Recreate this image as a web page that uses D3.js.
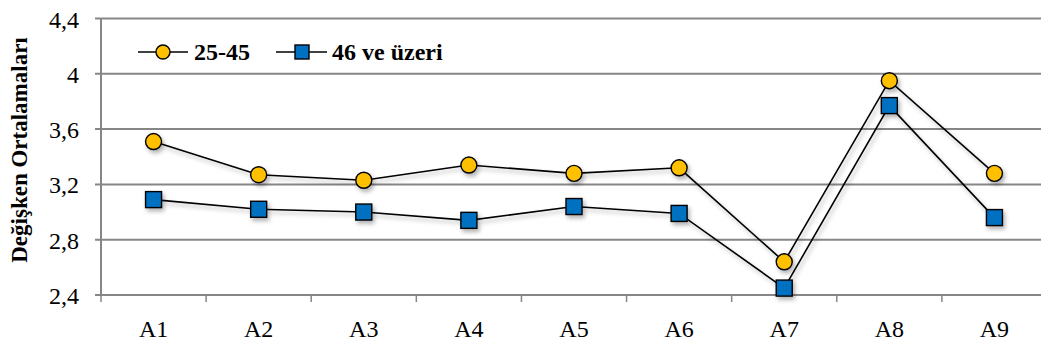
<!DOCTYPE html>
<html><head><meta charset="utf-8">
<script src="https://cdn.jsdelivr.net/npm/d3@7"></script>
</head><body style="margin:0;background:#fff">
<svg id="c" width="1041" height="347" font-family="Times New Roman, Liberation Serif, serif"></svg>
<script>
const categories = ["A1","A2","A3","A4","A5","A6","A7","A8","A9"];
const series1Name = "25-45";
const series1 = [3.51,3.27,3.23,3.34,3.28,3.32,2.64,3.95,3.28];
const series2Name = "46 ve üzeri";
const series2 = [3.09,3.02,3.00,2.94,3.04,2.99,2.45,3.77,2.96];
const yTicks = [2.4,2.8,3.2,3.6,4.0,4.4];
const yTitle = "Değişken Ortalamaları";

(function(){
const svg = d3.select("#c");
const pL = 101, pR = 1047, pT = 18.5, pB = 295;
const x = d3.scaleBand().domain(categories).range([pL,pR]);
const y = d3.scaleLinear().domain([2.4,4.4]).range([pB,pT]);

const defs = svg.append("defs");
const f = defs.append("filter").attr("id","sh").attr("x","-20%").attr("y","-20%").attr("width","160%").attr("height","160%");
f.append("feDropShadow").attr("dx",2).attr("dy",3).attr("stdDeviation",2).attr("flood-color","#000").attr("flood-opacity",0.3);

svg.append("g").selectAll("line").data(yTicks).join("line")
 .attr("x1",pL-6).attr("x2",pR).attr("y1",d=>y(d)).attr("y2",d=>y(d))
 .attr("stroke","#868686").attr("stroke-width",2);
svg.append("line").attr("x1",pL).attr("x2",pL).attr("y1",pT).attr("y2",pB+1).attr("stroke","#868686").attr("stroke-width",2);
const xt = categories.map(c=>x(c)).concat([pR]);
svg.append("g").selectAll("line").data(xt).join("line")
 .attr("x1",d=>d).attr("x2",d=>d).attr("y1",pB).attr("y2",pB+7)
 .attr("stroke","#868686").attr("stroke-width",1.5);

svg.append("g").selectAll("text").data(yTicks).join("text")
 .attr("x",79).attr("y",d=>y(d)+9).attr("text-anchor","end")
 .attr("font-size",24).attr("fill","#000")
 .text(d=>d3.format(".1f")(d).replace(".",",").replace(/,0$/,""));
svg.append("g").selectAll("text").data(categories).join("text")
 .attr("x",d=>x(d)+x.bandwidth()/2).attr("y",337).attr("text-anchor","middle")
 .attr("font-size",24).attr("fill","#000").text(d=>d);
svg.append("text").attr("transform","translate(27,150) rotate(-90)").attr("text-anchor","middle")
 .attr("font-size",23).attr("font-weight","bold").attr("fill","#000").text(yTitle);

const line = d3.line().x((d,i)=>x(categories[i])+x.bandwidth()/2).y(d=>y(d));
const g = svg.append("g").attr("filter","url(#sh)");
[series1,series2].forEach(s=>{
  g.append("path").datum(s).attr("d",line).attr("fill","none").attr("stroke","#000").attr("stroke-width",1.6);
});
g.append("g").selectAll("circle").data(series1).join("circle")
 .attr("cx",(d,i)=>x(categories[i])+x.bandwidth()/2).attr("cy",d=>y(d)).attr("r",8)
 .attr("fill","#FFC000").attr("stroke","#000").attr("stroke-width",1.4);
g.append("g").selectAll("rect").data(series2).join("rect")
 .attr("x",(d,i)=>x(categories[i])+x.bandwidth()/2-8).attr("y",d=>y(d)-8).attr("width",16).attr("height",16)
 .attr("fill","#0070C0").attr("stroke","#000").attr("stroke-width",1.4);

const lg = svg.append("g");
lg.append("line").attr("x1",138).attr("x2",188).attr("y1",52).attr("y2",52).attr("stroke","#000").attr("stroke-width",1.6);
lg.append("circle").attr("cx",163).attr("cy",52).attr("r",7).attr("fill","#FFC000").attr("stroke","#000").attr("stroke-width",1.4);
lg.append("text").attr("x",194).attr("y",60).attr("font-size",24).attr("font-weight","bold").attr("fill","#000").text(series1Name);
lg.append("line").attr("x1",276).attr("x2",327).attr("y1",52).attr("y2",52).attr("stroke","#000").attr("stroke-width",1.6);
lg.append("rect").attr("x",295).attr("y",45).attr("width",14).attr("height",14).attr("fill","#0070C0").attr("stroke","#000").attr("stroke-width",1.4);
lg.append("text").attr("x",332).attr("y",60).attr("font-size",24).attr("font-weight","bold").attr("fill","#000").text(series2Name);
})();
</script>
</body></html>
